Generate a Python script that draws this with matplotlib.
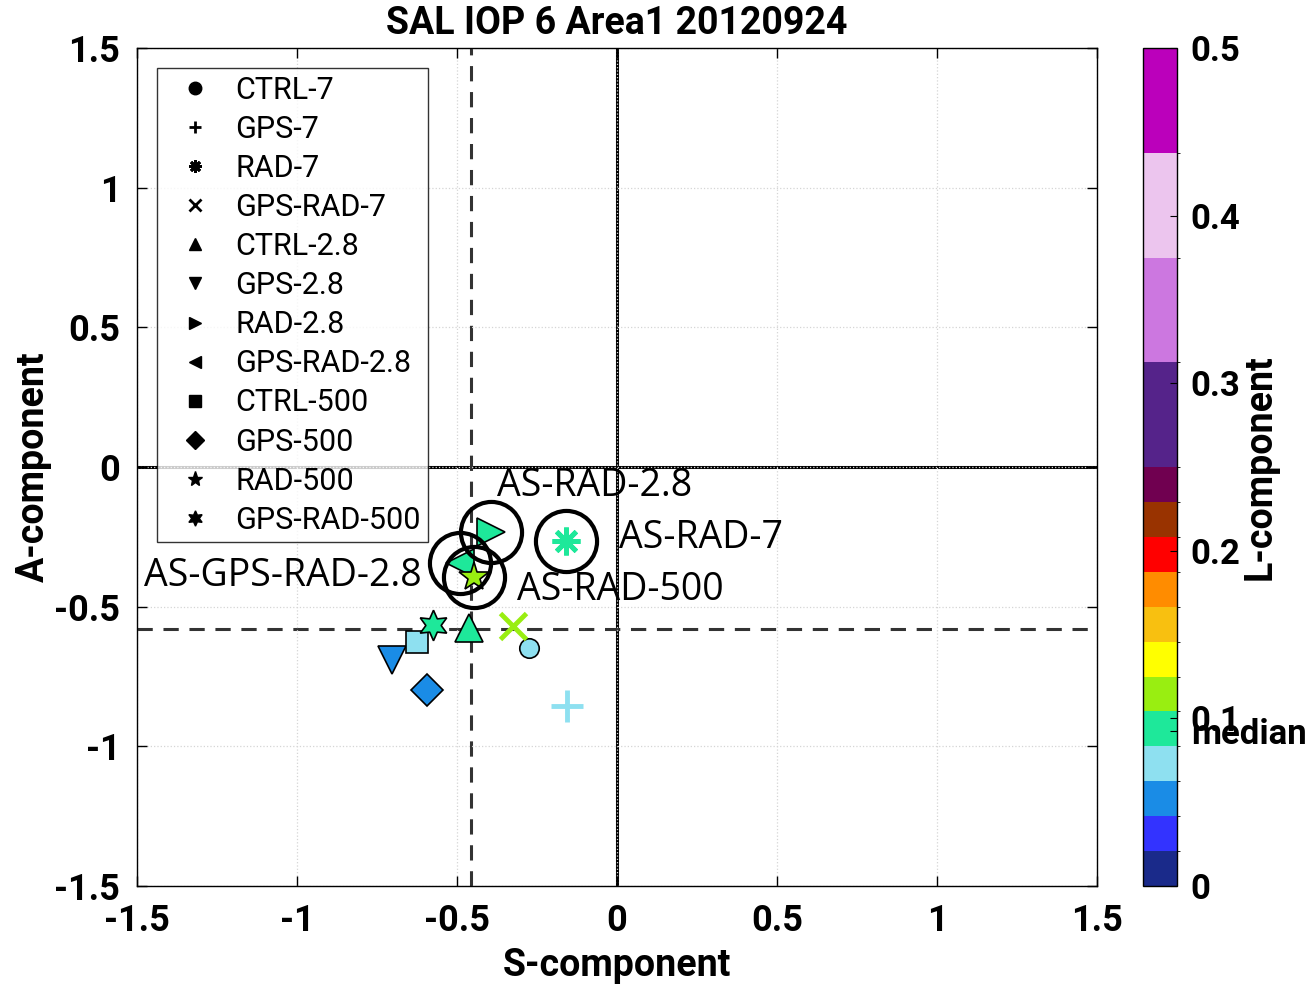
import numpy as np
import matplotlib
matplotlib.use("Agg")
import matplotlib.pyplot as plt
from matplotlib.colors import ListedColormap, BoundaryNorm
from matplotlib.lines import Line2D

# ---- data ----
names = ["CTRL-7", "GPS-7", "RAD-7", "GPS-RAD-7", "CTRL-2.8", "GPS-2.8",
         "RAD-2.8", "GPS-RAD-2.8", "CTRL-500", "GPS-500", "RAD-500", "GPS-RAD-500"]
S = [-0.275, -0.156, -0.159, -0.325, -0.4625, -0.703, -0.394, -0.49, -0.625, -0.594, -0.447, -0.575]
A = [-0.648, -0.856, -0.265, -0.569, -0.576, -0.69, -0.233, -0.344, -0.627, -0.798, -0.394, -0.566]
L = [0.075, 0.072, 0.097, 0.112, 0.093, 0.055, 0.095, 0.099, 0.070, 0.052, 0.115, 0.092]
annotated = {"RAD-2.8": "AS-RAD-2.8", "RAD-7": "AS-RAD-7",
             "GPS-RAD-2.8": "AS-GPS-RAD-2.8", "RAD-500": "AS-RAD-500"}

cmap_colors = ["#1a2a8a", "#3333ff", "#1a8ce6", "#8ee0f0", "#1ee89a", "#99ee11",
               "#ffff00", "#f8c010", "#ff8c00", "#ff0000", "#993300", "#700050",
               "#55238a", "#cc77e0", "#ecc5ee", "#bb00bb"]
bounds = [i / 48 for i in range(13)] + [0.3125, 0.375, 0.4375, 0.5]

# ---- styles ----
markers = ["o", "+", (8, 2, 0), "x", "^", "v", ">", "<", "s", "D", "*", (6, 1, 0)]
msizes = [14, 23, 20, 19, 20, 20, 20, 20, 16, 16, 22, 22]
line_markers = {"+", "x", (8, 2, 0)}

plt.rcParams['font.family'] = ['Roboto', 'DejaVu Sans']
fig = plt.figure(figsize=(13.15, 9.86), dpi=100)
ax = fig.add_axes([0.1042, 0.1014, 0.73, 0.8499])
cax = fig.add_axes([0.869, 0.1014, 0.026, 0.8499])

cmap = ListedColormap(cmap_colors)
norm = BoundaryNorm(bounds, cmap.N)

ax.set_xlim(-1.5, 1.5)
ax.set_ylim(-1.5, 1.5)
ax.set_xticks([-1.5, -1, -0.5, 0, 0.5, 1, 1.5])
ax.set_yticks([-1.5, -1, -0.5, 0, 0.5, 1, 1.5])
ax.set_xticklabels(["-1.5", "-1", "-0.5", "0", "0.5", "1", "1.5"])
ax.set_yticklabels(["-1.5", "-1", "-0.5", "0", "0.5", "1", "1.5"])
ax.grid(True, linestyle=":", color="#d5d5d5", linewidth=0.9)
ax.tick_params(direction="in", top=True, right=True, length=7, width=1,
               labelsize=26, pad=12)
for lab in ax.get_xticklabels() + ax.get_yticklabels():
    lab.set_fontweight("bold")
for sp in ax.spines.values():
    sp.set_linewidth(1.0)

ax.axhline(0, color="black", linewidth=2.2, zorder=1)
ax.axvline(0, color="black", linewidth=2.2, zorder=1)
ax.axvline(np.median(S), color="#333333", linewidth=2.2, linestyle=(0, (5, 3.5)), zorder=1)
ax.axhline(np.median(A) - 0.007, color="#333333", linewidth=2.2, linestyle=(0, (5, 3.5)), zorder=1)

for i, nm in enumerate(names):
    col = cmap(norm(L[i]))
    m = markers[i]
    if m in line_markers:
        ax.plot(S[i], A[i], linestyle="none", marker=m, markersize=msizes[i],
                color=col, markeredgewidth=3.5, zorder=3)
    else:
        ax.plot(S[i], A[i], linestyle="none", marker=m, markersize=msizes[i],
                markerfacecolor=col, markeredgecolor="black", markeredgewidth=1.2, zorder=3)

offsets = {"RAD-2.8": (6, 46, "left"), "RAD-7": (53, 3, "left"),
           "GPS-RAD-2.8": (-38, -13, "right"), "RAD-500": (43, -13, "left")}
for nm, txt in annotated.items():
    i = names.index(nm)
    ax.plot(S[i], A[i], linestyle="none", marker="o", markersize=44,
            markerfacecolor="none", markeredgecolor="black", markeredgewidth=3, zorder=4)
    dx, dy, ha = offsets[nm]
    ax.annotate(txt, xy=(S[i], A[i]), xytext=(dx, dy), textcoords="offset pixels",
                ha=ha, va="center", fontsize=27, family=["Open Sans", "DejaVu Sans"], zorder=5)

handles = []
for i, nm in enumerate(names):
    m = markers[i]
    if m in line_markers:
        h = Line2D([], [], linestyle="none", marker=m, markersize=9, color="black",
                   markeredgewidth=2)
    else:
        h = Line2D([], [], linestyle="none", marker=m,
                   markersize=9 if m not in ("*", (6, 1, 0)) else 11,
                   markerfacecolor="black", markeredgecolor="black")
    handles.append(h)
leg = ax.legend(handles, names, loc="upper left", bbox_to_anchor=(0.021, 0.976),
                fontsize=22, frameon=True, fancybox=False, edgecolor="black",
                handlelength=2.0, handletextpad=0.3, labelspacing=0.33,
                borderpad=0.25, borderaxespad=0, handleheight=0.7)
leg.get_frame().set_linewidth(1.0)

ax.set_title("SAL IOP 6 Area1 20120924", fontsize=27, fontweight="bold", pad=10)
ax.set_xlabel("S-component", fontsize=27, fontweight="bold", labelpad=6)
ax.set_ylabel("A-component", fontsize=27, fontweight="bold", labelpad=2)

sm = matplotlib.cm.ScalarMappable(norm=norm, cmap=cmap)
cb = fig.colorbar(sm, cax=cax, spacing="proportional")
med = float(np.median(L))
cb.set_ticks([0, 0.1, 0.2, 0.3, 0.4, 0.5, med])
cb.set_ticklabels(["0", "0.1", "0.2", "0.3", "0.4", "0.5", "median"])
cax.tick_params(direction="in", length=5, labelsize=25, pad=10)
for lab in cax.get_yticklabels():
    lab.set_fontweight("bold")
cb.outline.set_linewidth(1.0)
cb.set_label("L-component", fontsize=27, fontweight="bold", labelpad=-47)

fig.savefig("out.png", dpi=100)
